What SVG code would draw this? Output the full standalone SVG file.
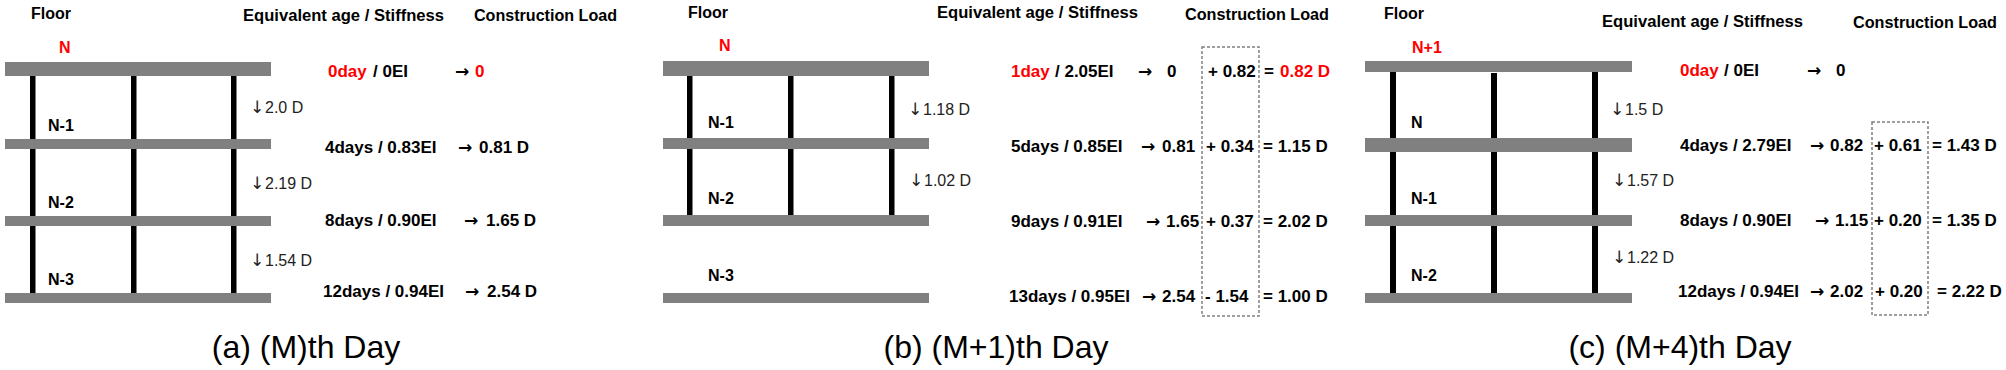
<svg xmlns="http://www.w3.org/2000/svg" width="2006" height="370" viewBox="0 0 2006 370">
<style>
  text { font-family: "Liberation Sans", Arial, sans-serif; fill: #000; }
  .hd { font-size: 16px; font-weight: bold; }
  .fl { font-size: 16px; font-weight: bold; }
  .red { fill: #ff0000; }
  .row { font-size: 17px; font-weight: bold; }
  .ar { font-family: "DejaVu Sans", sans-serif; font-weight: bold; font-size: 17px; }
  .ld { font-size: 16px; fill: #222; }
  .dn { font-family: "DejaVu Sans", sans-serif; font-size: 17px; }
  .cap { font-size: 32px; }
  .slab { fill: #808080; }
  .col { fill: #000; }
  .box { fill: none; stroke: #808080; stroke-width: 1.5; stroke-dasharray: 3 2; }
</style>

<!-- Panel (a) -->
<g id="panel-a">
  <text class="hd" x="31" y="19">Floor</text>
  <text class="hd" x="243" y="21" textLength="201" lengthAdjust="spacingAndGlyphs">Equivalent age / Stiffness</text>
  <text class="hd" x="474" y="21" textLength="143" lengthAdjust="spacingAndGlyphs">Construction Load</text>
  <g id="a-frame">
    <rect class="col" x="30" y="76" width="5.5" height="217"/>
    <rect class="col" x="131" y="76" width="5.5" height="217"/>
    <rect class="col" x="231" y="76" width="5.5" height="217"/>
    <rect class="slab" x="5" y="62" width="266" height="14"/>
    <rect class="slab" x="5" y="139" width="266" height="10"/>
    <rect class="slab" x="5" y="216" width="266" height="10"/>
    <rect class="slab" x="5" y="293" width="266" height="10"/>
  </g>
  <text class="fl red" x="59" y="53">N</text>
  <text class="fl" x="48" y="131">N-1</text>
  <text class="fl" x="48" y="208">N-2</text>
  <text class="fl" x="48" y="285">N-3</text>
  <text class="ld" y="113"><tspan class="dn" x="250">↓</tspan><tspan x="265">2.0 D</tspan></text>
  <text class="ld" y="189"><tspan class="dn" x="250">↓</tspan><tspan x="265">2.19 D</tspan></text>
  <text class="ld" y="266"><tspan class="dn" x="250">↓</tspan><tspan x="265">1.54 D</tspan></text>
  <text class="row" y="77"><tspan class="red" x="328">0day</tspan><tspan x="373">/ 0EI</tspan><tspan class="ar" x="455">→</tspan><tspan class="red" x="475">0</tspan></text>
  <text class="row" y="153"><tspan x="325">4days / 0.83EI</tspan><tspan class="ar" x="458">→</tspan><tspan x="479">0.81 D</tspan></text>
  <text class="row" y="226"><tspan x="325">8days / 0.90EI</tspan><tspan class="ar" x="464">→</tspan><tspan x="486">1.65 D</tspan></text>
  <text class="row" y="297"><tspan x="323">12days / 0.94EI</tspan><tspan class="ar" x="465">→</tspan><tspan x="487">2.54 D</tspan></text>
  <text class="cap" x="306" y="358" text-anchor="middle">(a) (M)th Day</text>
</g>

<!-- Panel (b) -->
<g id="panel-b">
  <text class="hd" x="688" y="18">Floor</text>
  <text class="hd" x="937" y="18" textLength="201" lengthAdjust="spacingAndGlyphs">Equivalent age / Stiffness</text>
  <text class="hd" x="1185" y="20" textLength="144" lengthAdjust="spacingAndGlyphs">Construction Load</text>
  <g id="b-frame">
    <rect class="col" x="687" y="76" width="5.5" height="139"/>
    <rect class="col" x="788" y="76" width="5.5" height="139"/>
    <rect class="col" x="889" y="76" width="5.5" height="139"/>
    <rect class="slab" x="663" y="61" width="266" height="15"/>
    <rect class="slab" x="663" y="138" width="266" height="11"/>
    <rect class="slab" x="663" y="215" width="266" height="11"/>
    <rect class="slab" x="663" y="293" width="266" height="10"/>
  </g>
  <text class="fl red" x="719" y="51">N</text>
  <text class="fl" x="708" y="128">N-1</text>
  <text class="fl" x="708" y="204">N-2</text>
  <text class="fl" x="708" y="281">N-3</text>
  <text class="ld" y="115"><tspan class="dn" x="908">↓</tspan><tspan x="923">1.18 D</tspan></text>
  <text class="ld" y="186"><tspan class="dn" x="909">↓</tspan><tspan x="924">1.02 D</tspan></text>
  <rect class="box" x="1202" y="47" width="57" height="269"/>
  <text class="row" y="77"><tspan class="red" x="1011">1day</tspan><tspan x="1055">/ 2.05EI</tspan><tspan class="ar" x="1138">→</tspan><tspan x="1167">0</tspan><tspan x="1208">+ 0.82</tspan><tspan x="1264">=</tspan><tspan class="red" x="1280">0.82 D</tspan></text>
  <text class="row" y="152"><tspan x="1011">5days / 0.85EI</tspan><tspan class="ar" x="1141">→</tspan><tspan x="1162">0.81</tspan><tspan x="1206">+ 0.34</tspan><tspan x="1263">= 1.15 D</tspan></text>
  <text class="row" y="227"><tspan x="1011">9days / 0.91EI</tspan><tspan class="ar" x="1146">→</tspan><tspan x="1166">1.65</tspan><tspan x="1206">+ 0.37</tspan><tspan x="1263">= 2.02 D</tspan></text>
  <text class="row" y="302"><tspan x="1009">13days / 0.95EI</tspan><tspan class="ar" x="1142">→</tspan><tspan x="1162">2.54</tspan><tspan x="1205">- 1.54</tspan><tspan x="1263">= 1.00 D</tspan></text>
  <text class="cap" x="996" y="358" text-anchor="middle">(b) (M+1)th Day</text>
</g>

<!-- Panel (c) -->
<g id="panel-c">
  <text class="hd" x="1384" y="19">Floor</text>
  <text class="hd" x="1602" y="27" textLength="201" lengthAdjust="spacingAndGlyphs">Equivalent age / Stiffness</text>
  <text class="hd" x="1853" y="28" textLength="144" lengthAdjust="spacingAndGlyphs">Construction Load</text>
  <g id="c-frame">
    <rect class="col" x="1390" y="72" width="6" height="221"/>
    <rect class="col" x="1491" y="73" width="6" height="220"/>
    <rect class="col" x="1592" y="72" width="6" height="221"/>
    <rect class="slab" x="1365" y="61" width="267" height="11"/>
    <rect class="slab" x="1365" y="138" width="267" height="14"/>
    <rect class="slab" x="1365" y="215" width="267" height="11"/>
    <rect class="slab" x="1365" y="293" width="267" height="10"/>
  </g>
  <text class="fl red" x="1412" y="53">N+1</text>
  <text class="fl" x="1411" y="128">N</text>
  <text class="fl" x="1411" y="204">N-1</text>
  <text class="fl" x="1411" y="281">N-2</text>
  <text class="ld" y="115"><tspan class="dn" x="1610">↓</tspan><tspan x="1625">1.5 D</tspan></text>
  <text class="ld" y="186"><tspan class="dn" x="1612">↓</tspan><tspan x="1627">1.57 D</tspan></text>
  <text class="ld" y="263"><tspan class="dn" x="1612">↓</tspan><tspan x="1627">1.22 D</tspan></text>
  <rect class="box" x="1872" y="122" width="56" height="193"/>
  <text class="row" y="76"><tspan class="red" x="1680">0day</tspan><tspan x="1724">/ 0EI</tspan><tspan class="ar" x="1807">→</tspan><tspan x="1836">0</tspan></text>
  <text class="row" y="151"><tspan x="1680">4days / 2.79EI</tspan><tspan class="ar" x="1810">→</tspan><tspan x="1830">0.82</tspan><tspan x="1874">+ 0.61</tspan><tspan x="1932">= 1.43 D</tspan></text>
  <text class="row" y="226"><tspan x="1680">8days / 0.90EI</tspan><tspan class="ar" x="1815">→</tspan><tspan x="1835">1.15</tspan><tspan x="1874">+ 0.20</tspan><tspan x="1932">= 1.35 D</tspan></text>
  <text class="row" y="297"><tspan x="1678">12days / 0.94EI</tspan><tspan class="ar" x="1810">→</tspan><tspan x="1830">2.02</tspan><tspan x="1875">+ 0.20</tspan><tspan x="1937">= 2.22 D</tspan></text>
  <text class="cap" x="1680" y="358" text-anchor="middle">(c) (M+4)th Day</text>
</g>
</svg>
